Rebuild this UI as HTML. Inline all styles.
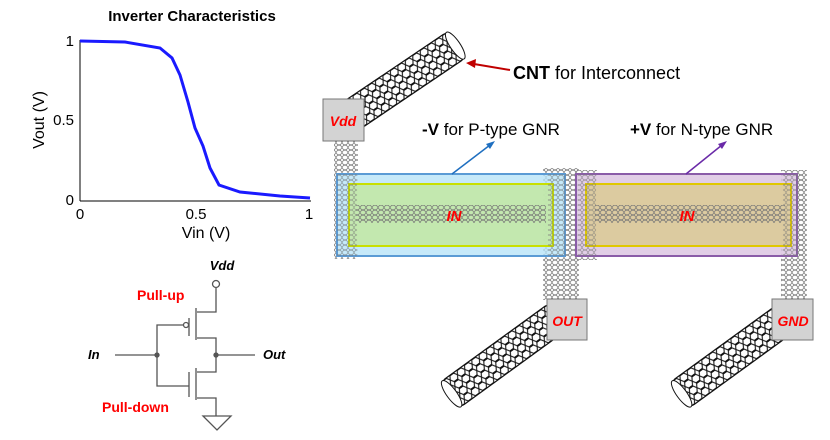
<!DOCTYPE html>
<html><head><meta charset="utf-8"><style>
html,body{margin:0;padding:0;background:#fff;}
svg{display:block;font-family:"Liberation Sans",sans-serif;}
</style></head><body>
<svg width="830" height="440" viewBox="0 0 830 440" xmlns="http://www.w3.org/2000/svg">
<defs>
<pattern id="hex" width="9" height="8" patternUnits="userSpaceOnUse">
<path d="M0,4 L2.2,0.5 L6.8,0.5 L9,4 L6.8,7.5 L2.2,7.5 Z" fill="none" stroke="#111" stroke-width="1.1"/>
</pattern>
<pattern id="hexs" width="6" height="5" patternUnits="userSpaceOnUse">
<path d="M0,2.5 L1.5,0.3 L4.5,0.3 L6,2.5 L4.5,4.7 L1.5,4.7 Z" fill="none" stroke="#777" stroke-width="0.7"/>
</pattern>
</defs>

<!-- Chart -->
<text x="192" y="21" font-size="15" font-weight="600" text-anchor="middle">Inverter Characteristics</text>
<line x1="80" y1="40" x2="80" y2="201" stroke="#000"/>
<line x1="80" y1="201" x2="311" y2="201" stroke="#000"/>
<text x="74" y="46" font-size="15" text-anchor="end">1</text>
<text x="74" y="125" font-size="15" text-anchor="end">0.5</text>
<text x="74" y="205" font-size="15" text-anchor="end">0</text>
<text x="80" y="219" font-size="15" text-anchor="middle">0</text>
<text x="196" y="219" font-size="15" text-anchor="middle">0.5</text>
<text x="309" y="219" font-size="15" text-anchor="middle">1</text>
<text x="206" y="238" font-size="16" text-anchor="middle">Vin (V)</text>
<text x="0" y="0" font-size="16" text-anchor="middle" transform="translate(44,120) rotate(-90)">Vout (V)</text>
<path d="M80,41 L125,42 L160,48 L172,58 L180,75 L188,102 L195,128 L203,146 L210,168 L219,185 L240,192 L280,196 L310,198" fill="none" stroke="#1a1aff" stroke-width="3"/>

<!-- Circuit -->
<text x="222" y="270" font-size="13" font-weight="bold" font-style="italic" text-anchor="middle">Vdd</text>
<text x="137" y="300" font-size="14" font-weight="bold" fill="#f00">Pull-up</text>
<text x="102" y="412" font-size="14" font-weight="bold" fill="#f00">Pull-down</text>
<text x="88" y="359" font-size="13" font-weight="bold" font-style="italic">In</text>
<text x="263" y="359" font-size="13" font-weight="bold" font-style="italic">Out</text>
<g stroke="#555" stroke-width="1.3" fill="none">
<circle cx="216" cy="284" r="3.5" fill="#fff"/>
<path d="M216,288 V312 H197"/>
<path d="M196,308 V340"/>
<path d="M189,318 V336"/>
<circle cx="186" cy="325" r="2.5" fill="#fff"/>
<path d="M183,325 H157 V386 H189"/>
<path d="M197,338 H216 V372 H197"/>
<path d="M196,368 V400"/>
<path d="M189,372 V397"/>
<path d="M197,398 H216 V416"/>
<path d="M203,416 H231 L217,430 Z"/>
<path d="M115,355 H157 M216,355 H255"/>
<circle cx="157" cy="355" r="2" fill="#555"/>
<circle cx="216" cy="355" r="2" fill="#555"/>
</g>

<!-- GNR strips -->
<rect x="334" y="141" width="24" height="118" fill="url(#hexs)"/>
<rect x="543" y="168" width="36" height="132" fill="url(#hexs)"/>
<rect x="575" y="170" width="22" height="90" fill="url(#hexs)"/>
<rect x="781" y="170" width="26" height="130" fill="url(#hexs)"/>

<!-- Blue/purple gates -->
<rect x="337" y="174" width="228" height="82" fill="#b8e4f8" fill-opacity="0.8" stroke="#5b9bd5" stroke-width="2"/>
<rect x="349" y="184" width="204" height="62" fill="#c2e8a6" fill-opacity="0.9" stroke="#c8e000" stroke-width="2"/>
<rect x="576" y="174" width="221" height="82" fill="#dcc6e2" fill-opacity="0.85" stroke="#8a5ca8" stroke-width="2"/>
<rect x="586" y="184" width="205" height="62" fill="#dccb98" fill-opacity="0.9" stroke="#e0c800" stroke-width="2"/>
<rect x="356" y="205" width="190" height="18" fill="url(#hexs)"/>
<rect x="595" y="205" width="190" height="18" fill="url(#hexs)"/>
<rect x="337" y="174" width="20" height="82" fill="url(#hexs)" opacity="0.6"/>
<rect x="548" y="174" width="20" height="82" fill="url(#hexs)" opacity="0.6"/>
<rect x="578" y="174" width="18" height="82" fill="url(#hexs)" opacity="0.6"/>
<rect x="783" y="174" width="20" height="82" fill="url(#hexs)" opacity="0.6"/>
<text x="454" y="221" font-size="15" font-weight="bold" font-style="italic" fill="#f00" text-anchor="middle">IN</text>
<text x="687" y="221" font-size="15" font-weight="bold" font-style="italic" fill="#f00" text-anchor="middle">IN</text>

<!-- arrows -->
<line x1="452" y1="174" x2="490" y2="145" stroke="#1f6fc0" stroke-width="1.5"/>
<path d="M495,141 L486,144 L490,149 Z" fill="#1f6fc0"/>
<line x1="686" y1="174" x2="722" y2="145" stroke="#6a2aa8" stroke-width="1.5"/>
<path d="M727,141 L718,144 L722,149 Z" fill="#6a2aa8"/>
<line x1="510" y1="70" x2="474" y2="64" stroke="#c00000" stroke-width="2"/>
<path d="M466,63 L476,59 L475,68 Z" fill="#c00000"/>

<text x="422" y="135" font-size="17"><tspan font-weight="bold">-V</tspan> for P-type GNR</text>
<text x="630" y="135" font-size="17"><tspan font-weight="bold">+V</tspan> for N-type GNR</text>
<text x="513" y="79" font-size="18"><tspan font-weight="bold">CNT</tspan> for Interconnect</text>

<!-- CNT tubes -->
<g transform="translate(345,120) rotate(-34)">
<rect x="0" y="-16" width="135" height="32" rx="6" fill="#fff" stroke="#111" stroke-width="1.2"/>
<rect x="0" y="-16" width="135" height="32" rx="6" fill="url(#hex)"/>
<ellipse cx="133" cy="0" rx="5" ry="16" fill="#fff" stroke="#111"/>
</g>
<g transform="translate(450,395) rotate(-36)">
<rect x="0" y="-16" width="135" height="32" rx="6" fill="#fff" stroke="#111" stroke-width="1.2"/>
<rect x="0" y="-16" width="135" height="32" rx="6" fill="url(#hex)"/>
<ellipse cx="2" cy="0" rx="5" ry="16" fill="#fff" stroke="#111"/>
</g>
<g transform="translate(680,395) rotate(-36)">
<rect x="0" y="-16" width="135" height="32" rx="6" fill="#fff" stroke="#111" stroke-width="1.2"/>
<rect x="0" y="-16" width="135" height="32" rx="6" fill="url(#hex)"/>
<ellipse cx="2" cy="0" rx="5" ry="16" fill="#fff" stroke="#111"/>
</g>

<!-- Pads -->
<rect x="323" y="99" width="41" height="42" fill="#d3d3d3" stroke="#777"/>
<text x="343" y="126" font-size="14" font-weight="bold" font-style="italic" fill="#f00" text-anchor="middle">Vdd</text>
<rect x="547" y="299" width="40" height="41" fill="#d3d3d3" stroke="#777"/>
<text x="567" y="326" font-size="14" font-weight="bold" font-style="italic" fill="#f00" text-anchor="middle">OUT</text>
<rect x="772" y="299" width="41" height="41" fill="#d3d3d3" stroke="#777"/>
<text x="793" y="326" font-size="14" font-weight="bold" font-style="italic" fill="#f00" text-anchor="middle">GND</text>
</svg>
</body></html>
